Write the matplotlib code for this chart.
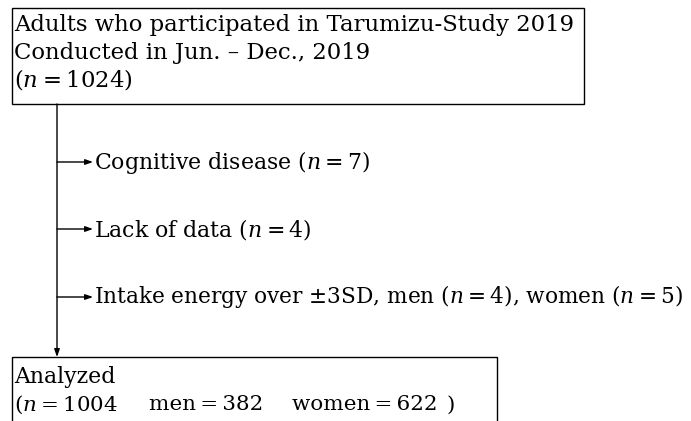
import matplotlib
matplotlib.use('Agg')
import matplotlib.pyplot as plt
from matplotlib.patches import Rectangle

plt.rcParams['font.family'] = ['DejaVu Serif']
plt.rcParams['mathtext.fontset'] = 'dejavuserif'

EQ = "\u2009=\u2009"

# flowchart content
top_lines = ["Adults who participated in Tarumizu-Study 2019",
             "Conducted in Jun. \u2013 Dec., 2019",
             "($n$" + EQ + "1024)"]
exclusions = ["Cognitive disease ($n$" + EQ + "7)",
              "Lack of data ($n$" + EQ + "4)",
              "Intake energy over \u00b13SD, men ($n$" + EQ + "4), women ($n$" + EQ + "5)"]
analyzed_title = "Analyzed"
analyzed_parts = ["($n$" + EQ + "1004", "men" + EQ + "382", "women" + EQ + "622", ")"]

lw = 1.0
arrow = dict(arrowstyle='-|>,head_length=0.45,head_width=0.16',
             lw=lw, color='black', shrinkA=0, shrinkB=0)

fig = plt.figure(figsize=(6.91, 4.21), dpi=100)
ax = fig.add_axes([0, 0, 1, 1])
ax.set_xlim(0, 691)
ax.set_ylim(421, 0)
ax.axis('off')

# top box
ax.add_patch(Rectangle((12, 8), 572, 96, fill=False, lw=lw, ec='black'))
for i, t in enumerate(top_lines):
    ax.text(14, 25 + i * 27.5, t, fontsize=16.4, va='center', ha='left')

# main vertical line with arrow into the bottom box
trunk_x = 57
ax.annotate('', xy=(trunk_x, 357), xytext=(trunk_x, 104), arrowprops=arrow)

# exclusion branches
branch_y = [162, 229, 297]
branch_fs = [15.8, 15.8, 15.6]
for y, t, f in zip(branch_y, exclusions, branch_fs):
    ax.annotate('', xy=(93, y), xytext=(trunk_x, y), arrowprops=arrow)
    ax.text(94, y, t, fontsize=f, va='center', ha='left')

# bottom box (runs off the lower edge)
ax.add_patch(Rectangle((12, 357), 485, 80, fill=False, lw=lw, ec='black'))
ax.text(14, 377, analyzed_title, fontsize=15.8, va='center', ha='left')
for x, t in zip([14, 149, 292, 447], analyzed_parts):
    ax.text(x, 405, t, fontsize=15.4, va='center', ha='left')

fig.savefig('out.png', dpi=100)
